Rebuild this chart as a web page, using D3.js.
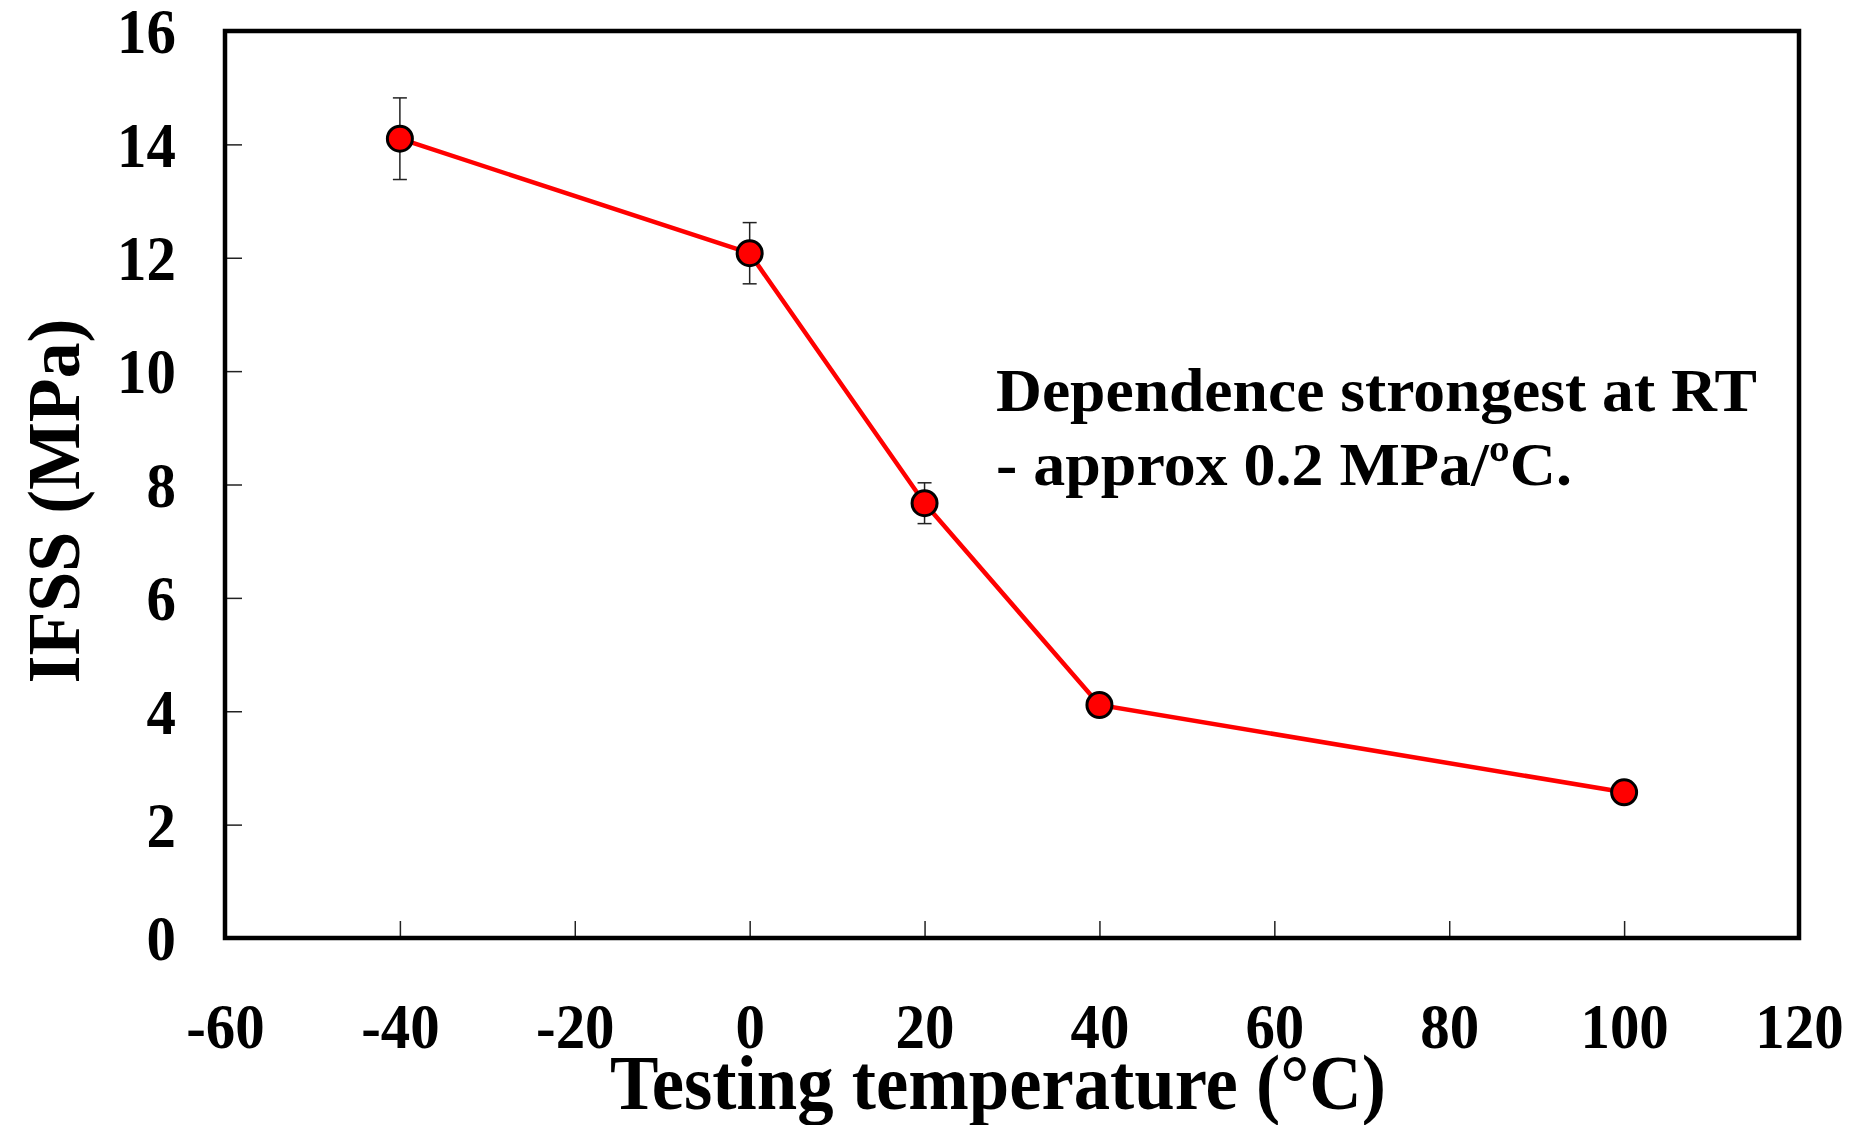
<!DOCTYPE html>
<html>
<head>
  <meta charset="utf-8" />
  <title>IFSS vs testing temperature</title>
  <script src="https://cdn.jsdelivr.net/npm/d3@7"></script>
  <style>
    body { margin: 0; background: #fff; }
    text { font-family: "Liberation Serif", "Times New Roman", serif; font-weight: bold; fill: #000; }
  </style>
</head>
<body>
  <svg id="chart" width="1864" height="1125"></svg>
  <script>
    // data
    var temps = [-40, 0, 20, 40, 100];
    var ifss = [14.1, 12.08, 7.67, 4.11, 2.57];
    var errs = [0.72, 0.54, 0.36, 0.1, 0.1];
    var xTicks = [-60, -40, -20, 0, 20, 40, 60, 80, 100, 120];
    var yTicks = [0, 2, 4, 6, 8, 10, 12, 14, 16];
    var note = ["Dependence strongest at RT", "- approx 0.2 MPa/\u00baC."];

    var plotL = 225, plotR = 1799, plotT = 31, plotB = 938;

    var svg = d3.select("#chart");

    var x = d3.scaleLinear().domain([-60, 120]).range([plotL, plotR]);
    var y = d3.scaleLinear().domain([0, 16]).range([plotB, plotT]);

    // squeeze glyphs a little, the source font is narrower than Liberation
    function squeeze(sel, k) {
      sel.each(function () {
        var w = this.getComputedTextLength();
        d3.select(this).attr("textLength", w * k).attr("lengthAdjust", "spacingAndGlyphs");
      });
    }

    /* axes with inward ticks, plain hyphen for negatives */
    var gx = svg.append("g")
      .attr("transform", "translate(0," + plotB + ")")
      .call(d3.axisBottom(x).tickValues(xTicks).tickSize(-17).tickPadding(0).tickFormat(function (d) { return String(d); }));
    gx.select(".domain").remove();
    gx.selectAll(".tick line").attr("stroke", "#222").attr("stroke-width", 1.5);
    gx.selectAll(".tick text")
      .attr("y", 110).attr("dy", null)
      .style("font-size", "64px")
      .style("font-family", null)
      .call(squeeze, 0.92);

    var gy = svg.append("g")
      .attr("transform", "translate(" + plotL + ",0)")
      .call(d3.axisLeft(y).tickValues(yTicks).tickSize(-17).tickPadding(49));
    gy.select(".domain").remove();
    gy.selectAll(".tick line").attr("stroke", "#222").attr("stroke-width", 1.5);
    gy.selectAll(".tick text")
      .attr("dy", "0.34em")
      .style("font-size", "64px")
      .style("font-family", null)
      .call(squeeze, 0.92);

    // frame
    svg.append("rect")
      .attr("x", plotL).attr("y", plotT)
      .attr("width", plotR - plotL).attr("height", plotB - plotT)
      .attr("fill", "none").attr("stroke", "#000").attr("stroke-width", 4.5);

    var pts = temps.map(function (t, i) { return { t: t, v: ifss[i], e: errs[i] }; });

    // error bars
    var eb = svg.append("g").attr("stroke", "#222").attr("stroke-width", 1.5);
    pts.forEach(function (d) {
      eb.append("line").attr("x1", x(d.t)).attr("x2", x(d.t)).attr("y1", y(d.v + d.e)).attr("y2", y(d.v - d.e));
      eb.append("line").attr("x1", x(d.t) - 7).attr("x2", x(d.t) + 7).attr("y1", y(d.v + d.e)).attr("y2", y(d.v + d.e));
      eb.append("line").attr("x1", x(d.t) - 7).attr("x2", x(d.t) + 7).attr("y1", y(d.v - d.e)).attr("y2", y(d.v - d.e));
    });

    svg.append("path")
      .datum(pts)
      .attr("fill", "none").attr("stroke", "#ff0000").attr("stroke-width", 4.5)
      .attr("d", d3.line().x(function (d) { return x(d.t); }).y(function (d) { return y(d.v); }));

    svg.selectAll("circle.pt")
      .data(pts)
      .enter().append("circle")
      .attr("class", "pt")
      .attr("cx", function (d) { return x(d.t); })
      .attr("cy", function (d) { return y(d.v); })
      .attr("r", 12.5)
      .attr("fill", "#ff0000").attr("stroke", "#000").attr("stroke-width", 3);

    // annotation
    svg.append("text").attr("x", 996).attr("y", 411).style("font-size", "62px")
      .attr("textLength", 761).attr("lengthAdjust", "spacingAndGlyphs").text(note[0]);
    svg.append("text").attr("x", 996).attr("y", 485).style("font-size", "62px")
      .attr("textLength", 576).attr("lengthAdjust", "spacingAndGlyphs").text(note[1]);

    // axis titles
    svg.append("text")
      .attr("x", 998).attr("y", 1109)
      .attr("text-anchor", "middle")
      .style("font-size", "78px")
      .attr("textLength", 776).attr("lengthAdjust", "spacingAndGlyphs")
      .text("Testing temperature (\u00b0C)");

    svg.append("text")
      .attr("transform", "translate(79,501) rotate(-90)")
      .attr("text-anchor", "middle")
      .style("font-size", "74px")
      .attr("textLength", 365).attr("lengthAdjust", "spacingAndGlyphs")
      .text("IFSS (MPa)");
  </script>
</body>
</html>
